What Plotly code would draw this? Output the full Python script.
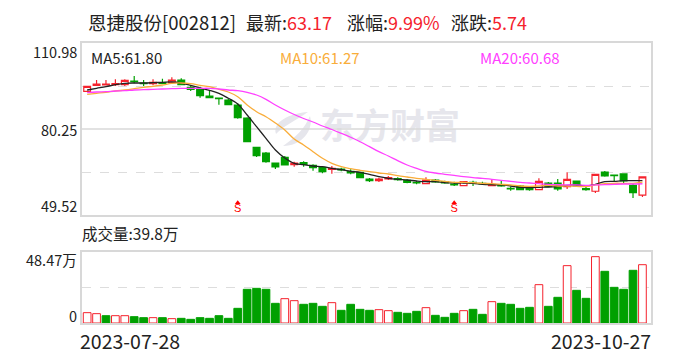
import pandas as pd
import plotly.graph_objects as go

dates = [d.strftime("%Y-%m-%d") for d in pd.bdate_range("2023-07-28", "2023-10-27")
         if d.strftime("%Y-%m-%d") not in ("2023-09-29", "2023-10-02", "2023-10-03", "2023-10-04", "2023-10-05", "2023-10-06")]

opens = [93.72,95.87,95.97,96.08,96.08,97.40,96.69,96.44,96.80,96.80,97.76,95.15,94.44,92.04,91.33,90.60,88.83,84.18,73.71,71.68,
         68.10,70.14,67.50,68.21,67.28,66.42,65.85,65.96,65.14,64.78,62.39,61.78,62.39,62.50,61.92,61.21,60.71,62.03,61.42,60.60,
         60.00,61.21,60.85,60.00,60.25,59.06,59.89,58.92,58.57,60.96,60.96,59.64,61.67,58.92,58.00,64.89,63.82,64.18,60.14,56.60]
closes = [95.51,96.33,96.33,96.44,97.65,97.15,96.44,96.94,96.58,97.76,96.08,94.44,92.15,91.44,91.08,88.93,84.29,75.71,70.71,68.57,
          66.67,67.39,68.10,67.64,66.42,64.98,66.21,65.60,64.53,62.85,61.78,62.39,62.85,62.14,61.21,60.96,62.03,61.32,60.96,60.25,
          61.42,60.85,60.60,60.50,59.89,58.81,58.57,58.57,61.56,59.64,58.81,62.28,59.89,58.57,64.07,63.46,63.57,61.67,57.49,63.17]
highs = [95.60,97.76,97.76,98.01,98.01,99.19,97.76,98.01,98.22,98.72,98.37,95.87,95.37,94.19,91.33,90.97,89.43,84.43,73.82,72.03,
         68.30,70.60,68.57,68.71,67.64,66.60,67.03,66.42,65.85,65.00,62.75,62.85,63.46,63.00,62.28,61.67,63.00,62.39,61.78,61.42,
         61.60,61.78,61.42,62.28,61.67,59.64,60.25,59.42,62.64,61.32,62.39,64.78,61.67,59.89,64.18,65.25,63.90,64.30,60.85,63.30]
lows = [93.65,95.80,95.87,95.62,95.62,96.58,95.62,95.87,96.33,96.58,95.87,93.83,91.44,91.44,88.93,88.93,83.93,75.71,70.25,68.21,
        65.96,67.30,66.78,66.78,65.35,64.42,64.28,65.14,64.07,62.80,61.32,61.32,62.03,61.78,60.85,60.50,60.50,61.07,60.71,59.89,
        59.90,59.89,60.25,59.89,59.64,58.21,58.46,58.21,58.35,59.42,58.21,58.81,59.64,58.21,57.39,63.21,61.42,60.96,55.60,55.96]
ma5 = [94.19,94.79,95.37,96.08,96.58,96.69,96.69,96.80,96.94,97.05,96.69,95.87,94.90,94.08,93.01,91.22,89.18,85.25,81.07,76.93,
       72.75,69.89,67.99,67.50,67.03,66.78,66.21,65.71,65.14,64.78,64.07,63.21,62.64,62.28,62.03,61.67,61.42,61.42,61.07,60.96,
       60.96,60.85,60.49,60.35,60.25,59.89,59.42,59.28,59.42,59.53,59.64,60.14,60.25,59.89,60.49,61.42,61.56,61.78,61.78,61.80]
ma10 = [92.65,93.01,93.37,93.83,94.19,94.65,95.15,95.51,95.97,96.58,96.69,96.44,95.87,95.37,94.44,93.47,91.79,88.83,86.43,84.65,
        82.40,79.89,76.68,74.54,72.14,69.78,67.99,66.78,66.07,65.50,65.00,64.53,64.17,63.57,63.10,62.64,62.28,61.92,61.56,61.21,
        61.21,61.07,60.85,60.71,60.49,60.25,59.89,59.78,59.89,60.14,59.89,59.89,59.78,59.64,60.25,60.71,60.85,60.85,60.85,61.27]
ma20 = [93.22,93.47,93.58,93.83,93.94,94.19,94.29,94.44,94.54,94.65,94.79,94.79,94.79,94.79,94.54,94.19,93.94,93.37,92.40,90.86,
        88.83,87.04,85.43,84.00,82.75,81.32,80.07,78.72,77.29,75.71,73.93,72.14,70.61,68.93,67.39,66.21,65.14,64.53,64.07,63.64,
        63.21,62.85,62.64,62.28,61.92,61.56,61.21,60.96,60.71,60.49,60.35,60.25,60.25,60.14,60.25,60.35,60.49,60.60,60.60,60.68]
volumes = [7.06,6.37,5.00,5.00,5.00,4.32,3.64,3.64,3.64,2.96,3.19,2.50,3.64,3.19,5.00,3.19,10.01,22.99,23.67,22.99,
           13.43,16.61,15.25,12.75,13.43,11.38,13.88,8.65,12.75,9.33,8.65,9.10,8.42,7.28,6.60,7.97,10.47,5.23,3.87,6.60,
           8.42,9.33,5.92,14.57,13.43,12.75,10.01,10.70,26.17,11.38,17.53,39.15,22.30,16.84,45.29,35.28,24.35,22.99,35.96,39.80]
volume_up = [1,1,0,1,1,0,0,1,0,1,0,0,0,0,0,0,0,0,0,0,0,1,1,0,0,0,1,0,0,0,
             0,1,1,0,0,0,1,0,0,0,1,0,0,1,0,0,0,0,1,0,0,1,0,0,1,0,0,0,0,1]
signal_days = [16, 39]

RED, GREEN = "#f5222d", "#00a000"
ORANGE, MAGENTA = "#f9ad3a", "#ff40ff"
WATERMARK = "#e6e6ec"
FONT = "Noto Sans CJK SC"
W, H = 688, 360

def px(x): return x / W
def py(y): return 1 - y / H

fig = go.Figure()
fig.add_trace(go.Candlestick(
    x=dates, open=opens, high=highs, low=lows, close=closes, whiskerwidth=0,
    increasing=dict(line=dict(color=RED, width=1.2), fillcolor="white"),
    decreasing=dict(line=dict(color=GREEN, width=1.2), fillcolor=GREEN),
    xaxis="x", yaxis="y", showlegend=False))
for vals, col in ((ma5, "#222222"), (ma10, ORANGE), (ma20, MAGENTA)):
    fig.add_trace(go.Scatter(x=dates, y=vals, mode="lines", line=dict(color=col, width=1.3, shape="spline"),
                             xaxis="x", yaxis="y", showlegend=False))
fig.add_trace(go.Scatter(x=[dates[i] for i in signal_days], y=[53.9] * 2, mode="markers",
                         marker=dict(symbol="triangle-up", size=5, color="red"), xaxis="x", yaxis="y", showlegend=False))
fig.add_trace(go.Scatter(x=[dates[i] for i in signal_days], y=[51.5] * 2, mode="text", text=["S", "S"],
                         textfont=dict(color="red", size=11, family="Liberation Sans"), xaxis="x", yaxis="y", showlegend=False))
fig.add_trace(go.Bar(
    x=dates, y=volumes, width=0.82,
    marker=dict(color=["white" if u else GREEN for u in volume_up],
                line=dict(color=[RED if u else GREEN for u in volume_up], width=1)),
    xaxis="x2", yaxis="y2", showlegend=False))

def note(x, y, text, color="#222222", size=16, anchor="left"):
    fig.add_annotation(xref="paper", yref="paper", x=px(x), y=py(y), text=text, showarrow=False,
                       xanchor=anchor, yanchor="middle", font=dict(family=FONT, size=size, color=color))

note(86, 22, "恩捷股份[002812]", size=18.5)
note(244, 22, "最新:", size=18)
note(285, 22, "63.17", RED, 18)
note(345, 22, "涨幅:", size=18)
note(386, 22, "9.99%", RED, 18)
note(449, 22, "涨跌:", size=18)
note(490, 22, "5.74", RED, 18)
note(89, 58, "MA5:61.80", size=15)
note(278, 58, "MA10:61.27", ORANGE, 15)
note(478, 58, "MA20:60.68", MAGENTA, 15)
note(79, 52, "110.98", size=14.5, anchor="right")
note(79, 129, "80.25", size=14.5, anchor="right")
note(79, 205, "49.52", size=14.5, anchor="right")
note(80, 233, "成交量:39.8万", size=15.5)
note(79, 259, "48.47万", size=14.5, anchor="right")
note(79, 315, "0", size=14.5, anchor="right")
note(78, 340, "2023-07-28", size=19.5)
note(653, 340, "2023-10-27", size=19.5, anchor="right")

def paper_path(cmds):
    return " ".join(c if isinstance(c, str) else f"{px(c[0]):.5f},{py(c[1]):.5f}" for c in cmds)

fig.add_shape(type="path", xref="paper", yref="paper", layer="below", fillcolor=WATERMARK, line=dict(width=0),
              path=paper_path(["M", (308, 112), "C", (290, 113), (272, 122), (276, 134), "C", (282, 127), (295, 121), (308, 112), "Z"]))
fig.add_shape(type="path", xref="paper", yref="paper", layer="below", fillcolor=WATERMARK, line=dict(width=0),
              path=paper_path(["M", (310, 116), "C", (314, 130), (302, 146), (283, 146), "C", (296, 137), (305, 128), (310, 116), "Z"]))
fig.add_shape(type="rect", xref="paper", yref="paper", x0=px(320), x1=px(460), y0=py(150), y1=py(108),
              line=dict(width=0), fillcolor="rgba(0,0,0,0)", layer="below",
              label=dict(text="东方财富", textposition="middle center",
                         font=dict(family=FONT, size=35, color=WATERMARK, weight="bold")))
fig.add_shape(type="line", xref="x domain", yref="y", x0=0, x1=1, y0=80.25, y1=80.25,
              line=dict(color="#d8d8d8", width=1.5), layer="below")

axis_common = dict(showline=True, linecolor="#d8d8d8", linewidth=1.5, mirror=True, zeroline=False, ticks="")
fig.update_layout(
    width=W, height=H, margin=dict(l=0, r=0, t=0, b=0), autosize=False,
    paper_bgcolor="white", plot_bgcolor="white", bargap=0.15, boxgap=0.28, boxgroupgap=0,
    showlegend=False, hovermode=False,
    xaxis=dict(domain=[px(81.5), px(651)], type="category", categoryorder="array", categoryarray=dates,
               range=[-0.6, 59.91], rangeslider=dict(visible=False), showgrid=False, showticklabels=False,
               anchor="y", **axis_common),
    yaxis=dict(domain=[py(215), py(43)], range=[49.52, 110.98], tickvals=[64.885, 95.615], showticklabels=False,
               showgrid=True, gridcolor="#dddddd", griddash="dash", gridwidth=1, anchor="x", **axis_common),
    xaxis2=dict(domain=[px(81.5), px(651)], type="category", categoryorder="array", categoryarray=dates,
                range=[-0.6, 59.91], showgrid=False, showticklabels=False, anchor="y2", **axis_common),
    yaxis2=dict(domain=[py(323), py(252)], range=[0, 48.47], tickvals=[24.235], showticklabels=False,
                showgrid=True, gridcolor="#dddddd", griddash="dash", gridwidth=1, anchor="x2", **axis_common),
)
fig.write_html("out.html", config=dict(displayModeBar=False), post_script="document.body.style.margin='0';")
